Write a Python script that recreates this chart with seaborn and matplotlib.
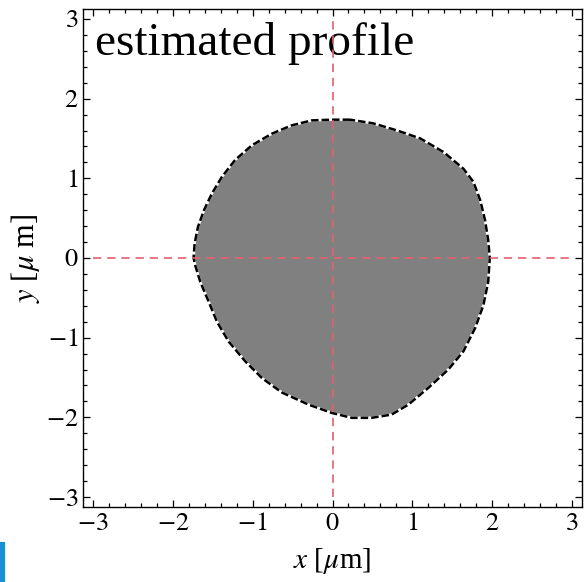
import numpy as np
import pandas as pd
import matplotlib
matplotlib.use("Agg")
import matplotlib.pyplot as plt
from matplotlib.patches import Rectangle
from matplotlib.ticker import MultipleLocator
import seaborn as sns

# profile boundary (µm), traced around the shape
profile_x = [0.22, -0.01, -0.26, -0.51, -0.76, -1.01, -1.22, -1.384, -1.51, -1.61, -1.685, -1.727,
             -1.74, -1.72, -1.656, -1.55, -1.447, -1.30, -1.09, -0.88, -0.63, -0.30, -0.01,
             0.24, 0.49, 0.74, 0.95, 1.20, 1.45, 1.64, 1.786, 1.89, 1.95, 1.97, 1.95, 1.91,
             1.85, 1.765, 1.64, 1.39, 1.10, 0.81, 0.51, 0.22]
profile_y = [1.736, 1.736, 1.727, 1.665, 1.56, 1.414, 1.23, 1.02, 0.81, 0.60, 0.39, 0.18,
             0.0, -0.09, -0.30, -0.55, -0.80, -1.05, -1.30, -1.51, -1.69, -1.84, -1.944,
             -2.006, -2.006, -1.965, -1.84, -1.63, -1.40, -1.17, -0.88, -0.59, -0.30, 0.0, 0.225, 0.476,
             0.726, 0.955, 1.12, 1.33, 1.50, 1.60, 1.69, 1.736]
axis_ticks = [-3, -2, -1, 0, 1, 2, 3]
title_text = "estimated profile"

sns.set_theme(style="white")
plt.rcParams['font.family'] = ['Liberation Serif', 'DejaVu Serif']
plt.rcParams['mathtext.fontset'] = 'stix'
plt.rcParams['text.color'] = 'black'
plt.rcParams['axes.labelcolor'] = 'black'
plt.rcParams['xtick.color'] = 'black'
plt.rcParams['ytick.color'] = 'black'

fig = plt.figure(figsize=(5.88, 5.82), dpi=100)
ax = fig.add_axes([83/588, 1-507/582, (582-83)/588, (507-9)/582])

df = pd.DataFrame({"x": profile_x, "y": profile_y})
ax.fill(df["x"], df["y"], color="#808080", lw=0, zorder=1)
sns.lineplot(data=df, x="x", y="y", sort=False, estimator=None, color="white", lw=1.8, ax=ax, zorder=2)
sns.lineplot(data=df, x="x", y="y", sort=False, estimator=None, color="black", lw=1.8,
             linestyle=(0, (3.0, 1.2)), ax=ax, zorder=3)

ax.plot([-3, 3], [0, 0], color="#e4606e", lw=1.2, ls=(0, (5, 3.5)), zorder=4)
ax.plot([0, 0], [-3, 3], color="#e4606e", lw=1.2, ls=(0, (5, 3.5)), zorder=4)

ax.set_xlim(-3.125, 3.125)
ax.set_ylim(-3.125, 3.125)
ax.set_xticks(axis_ticks)
ax.set_yticks(axis_ticks)
ax.set_xticklabels([r"$%d$" % t for t in axis_ticks])
ax.set_yticklabels([r"$%d$" % t for t in axis_ticks])
ax.xaxis.set_minor_locator(MultipleLocator(0.2))
ax.yaxis.set_minor_locator(MultipleLocator(0.2))
ax.tick_params(which="both", direction="in", top=True, right=True, bottom=True, left=True,
               color="black", width=0.9)
ax.tick_params(which="major", length=5, labelsize=19)
ax.tick_params(axis="x", which="major", pad=4)
ax.tick_params(axis="y", which="major", pad=3)
ax.tick_params(which="minor", length=3)
for s in ax.spines.values():
    s.set_color("black")
    s.set_linewidth(1.0)

ax.set_xlabel(r"$x$ [$\mu$m]", fontsize=21, labelpad=8)
ax.set_ylabel(r"$y$ [$\mu$ m]", fontsize=22, labelpad=3)
ax.text(0.024, 0.9076, title_text, transform=ax.transAxes, fontsize=34, va="baseline", ha="left")

fig.add_artist(Rectangle((0, 0), 5/588, 40/582, transform=fig.transFigure, color="#1a8fd6", lw=0))

fig.savefig("out.png", dpi=100)
